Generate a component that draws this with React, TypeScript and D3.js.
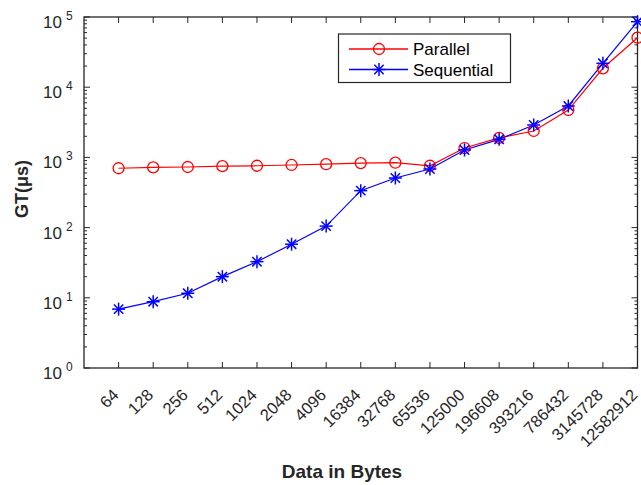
import React from "react";
import * as d3 from "d3";

// data sizes (bytes) on the x axis
const sizes = [
  "64", "128", "256", "512", "1024", "2048", "4096", "16384", "32768",
  "65536", "125000", "196608", "393216", "786432", "3145728", "12582912",
];

// GT in microseconds
const parallel = [
  700, 720, 730, 750, 760, 780, 800, 830, 840, 760, 1360, 1900, 2380, 4730, 18600, 50700,
];
const sequential = [
  6.9, 8.8, 11.6, 20, 32.7, 58, 105, 336, 509, 684, 1275, 1810, 2895, 5400, 21900, 85700,
];

const decades = [0, 1, 2, 3, 4, 5];

const W = 641;
const H = 485;
const left = 84;
const right = 637.5;
const top = 17;
const bottom = 368;
const axisColor = "#262626";

const App = () => {
  const x = d3.scaleLinear().domain([0, sizes.length]).range([left, right]);
  const y = d3.scaleLog().domain([1, 1e5]).range([bottom, top]);

  const line = d3
    .line<number>()
    .x((d, i) => x(i + 1))
    .y((d) => y(d));

  const minor: number[] = [];
  decades.slice(0, -1).forEach((e) => {
    for (let k = 2; k <= 9; k++) minor.push(k * Math.pow(10, e));
  });

  const star = (cx: number, cy: number, r: number, key: any) => {
    const d = r * 0.72;
    return (
      <g key={key} stroke="#0000ff" strokeWidth={1.5}>
        <line x1={cx - r} y1={cy} x2={cx + r} y2={cy} />
        <line x1={cx} y1={cy - r} x2={cx} y2={cy + r} />
        <line x1={cx - d} y1={cy - d} x2={cx + d} y2={cy + d} />
        <line x1={cx - d} y1={cy + d} x2={cx + d} y2={cy - d} />
      </g>
    );
  };

  const font = "'Liberation Sans', Arial, Helvetica, sans-serif";

  return (
    <svg
      width={W}
      height={H}
      style={{ position: "absolute", left: 0, top: 0, background: "#fff" }}
      fontFamily={font}
    >
      {/* y ticks */}
      {decades.map((e) => (
        <g key={"yt" + e}>
          <line x1={left} x2={left + 6} y1={y(Math.pow(10, e))} y2={y(Math.pow(10, e))} stroke={axisColor} />
          <line x1={right} x2={right - 6} y1={y(Math.pow(10, e))} y2={y(Math.pow(10, e))} stroke={axisColor} />
          <text x={62} y={y(Math.pow(10, e)) + 11} fontSize={17} textAnchor="end" fill={axisColor}>
            10
          </text>
          <text x={66} y={y(Math.pow(10, e)) + 3} fontSize={12} fill={axisColor}>
            {e}
          </text>
        </g>
      ))}
      {minor.map((v, i) => (
        <g key={"ym" + i}>
          <line x1={left} x2={left + 3} y1={y(v)} y2={y(v)} stroke={axisColor} />
          <line x1={right} x2={right - 3} y1={y(v)} y2={y(v)} stroke={axisColor} />
        </g>
      ))}

      {/* x ticks */}
      {sizes.map((s, i) => (
        <g key={"xt" + i}>
          <line x1={x(i + 1)} x2={x(i + 1)} y1={bottom} y2={bottom - 6} stroke={axisColor} />
          <line x1={x(i + 1)} x2={x(i + 1)} y1={top} y2={top + 6} stroke={axisColor} />
          <text
            transform={`translate(${x(i + 1) - 3},${bottom + 24}) rotate(-45)`}
            fontSize={16.5}
            textAnchor="end"
            dy="0.35em"
            fill={axisColor}
          >
            {s}
          </text>
        </g>
      ))}

      {/* box */}
      <rect
        x={left}
        y={top}
        width={right - left}
        height={bottom - top}
        fill="none"
        stroke={axisColor}
        strokeWidth={1.3}
      />

      {/* series */}
      <path d={line(parallel) || ""} fill="none" stroke="#ff0000" strokeWidth={1.2} />
      <path d={line(sequential) || ""} fill="none" stroke="#0000ff" strokeWidth={1.2} />
      {parallel.map((v, i) => (
        <circle key={"p" + i} cx={x(i + 1)} cy={y(v)} r={5.5} fill="none" stroke="#ff0000" strokeWidth={1.3} />
      ))}
      {sequential.map((v, i) => star(x(i + 1), y(v), 6.5, "s" + i))}

      {/* legend */}
      <rect x={338.5} y={34} width={172} height={48.5} fill="#fff" stroke={axisColor} strokeWidth={1.2} />
      <line x1={349} x2={408} y1={49} y2={49} stroke="#ff0000" strokeWidth={1.5} />
      <circle cx={379} cy={49} r={5.5} fill="none" stroke="#ff0000" strokeWidth={1.3} />
      <text x={413} y={55} fontSize={17} fill="#000">Parallel</text>
      <line x1={349} x2={408} y1={69.5} y2={69.5} stroke="#0000ff" strokeWidth={1.5} />
      {star(379, 69.5, 6.5, "legstar")}
      <text x={413} y={75.5} fontSize={17} fill="#000">Sequential</text>

      {/* axis labels */}
      <text x={342} y={478} fontSize={19} fontWeight="bold" textAnchor="middle" fill={axisColor}>
        Data in Bytes
      </text>
      <text
        transform={`translate(28,189) rotate(-90)`}
        fontSize={18}
        fontWeight="bold"
        textAnchor="middle"
        fill={axisColor}
      >
        GT(μs)
      </text>
    </svg>
  );
};

export default App;
